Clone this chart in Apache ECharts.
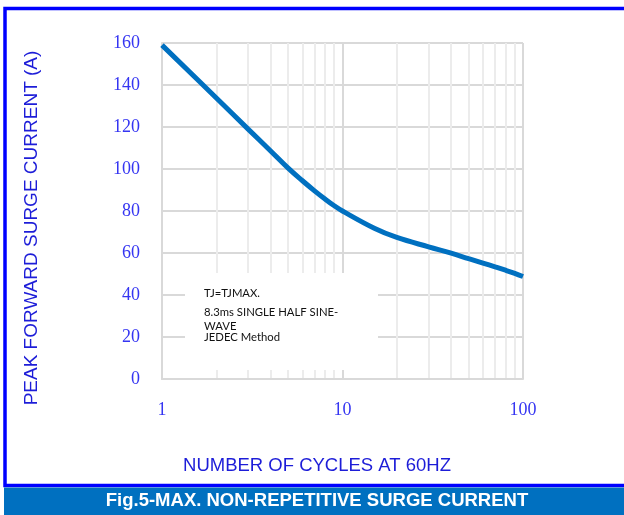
<!DOCTYPE html>
<html>
<head>
<meta charset="utf-8">
<script src="https://cdn.jsdelivr.net/npm/echarts@6/dist/echarts.min.js"></script>
<style>
html,body{margin:0;padding:0;background:#fff;}
#surge{width:624px;height:515px;}
</style>
</head>
<body>
<div id="surge"></div>
<script>
// number of cycles at 60Hz and peak forward surge current (A)
var cycles = [1, 2, 3, 4, 5, 6, 7, 8, 9, 10, 15, 20, 30, 40, 50, 60, 70, 80, 90, 100];
var current = [159, 133.8, 119, 108.6, 100.4, 94.4, 89.6, 85.7, 82.5, 80, 71.8, 67.4, 62.9, 59.9, 57.3, 55.2, 53.4, 51.8, 50.3, 48.8];
// light vertical lines inside each decade
var minorCycles = [2, 3, 4, 5, 6, 7, 8, 9, 20, 30, 40, 50, 60, 70, 80, 90];
var noteLines = ['TJ=TJMAX.', '8.3ms SINGLE HALF SINE-', 'WAVE', 'JEDEC Method'];

function drawSurge(){
	var myChart = echarts.init(document.getElementById("surge"));

	var points = [];
	for(var i=0;i<cycles.length;i++){
		points[i] = [cycles[i], current[i]];
	}
	var minorLines = [];
	for(var i=0;i<minorCycles.length;i++){
		minorLines.push({xAxis: minorCycles[i]});
	}

	var labelBlue = '#3535f2';
	var nameBlue = '#1d1dd8';
	var noteY = [293, 312, 326, 337];
	var graphics = [
		{
			type: 'rect',
			shape: {x: 5, y: 8.5, width: 640, height: 477},
			style: {fill: 'none', stroke: '#0000ff', lineWidth: 3.5},
			z: 10
		},
		{
			type: 'rect',
			shape: {x: 4, y: 487.5, width: 620, height: 28},
			style: {fill: '#0070c0'},
			z: 10
		},
		{
			type: 'text',
			x: 317,
			y: 501,
			style: {
				text: 'Fig.5-MAX. NON-REPETITIVE SURGE CURRENT',
				fill: '#ffffff',
				font: 'bold 18.5px "Liberation Sans"',
				align: 'center',
				verticalAlign: 'middle'
			},
			z: 11
		},
		{
			type: 'text',
			x: 317,
			y: 466,
			style: {
				text: 'NUMBER OF CYCLES AT 60HZ',
				fill: nameBlue,
				font: '18.5px "Liberation Sans"',
				align: 'center',
				verticalAlign: 'middle'
			},
			z: 10
		},
		{
			type: 'text',
			x: 32,
			y: 228,
			rotation: Math.PI / 2,
			style: {
				text: 'PEAK FORWARD SURGE CURRENT (A)',
				fill: nameBlue,
				font: '19px "Liberation Sans"',
				align: 'center',
				verticalAlign: 'middle'
			},
			z: 10
		},
		{
			// white note box over the grid
			type: 'rect',
			shape: {x: 185, y: 273, width: 193, height: 97},
			style: {fill: '#ffffff'},
			z: 3
		}
	];
	for(var i=0;i<noteLines.length;i++){
		graphics.push({
			type: 'text',
			x: 204,
			y: noteY[i],
			style: {text: noteLines[i], fill: '#111', font: '11.3px Lato', verticalAlign: 'middle'},
			z: 4
		});
	}

	var option = {
		animation: false,
		grid: {
			left: 162,
			top: 43,
			right: 101,
			bottom: 136,
			containLabel: false,
			outerBoundsMode: 'none'
		},
		xAxis: {
			type: 'log',
			logBase: 10,
			min: 1,
			max: 100,
			axisLine: {show: true, lineStyle: {color: '#d9d9d9', width: 2}},
			axisTick: {show: false},
			axisLabel: {
				color: labelBlue,
				fontFamily: 'Liberation Serif',
				fontSize: 18,
				margin: 22
			},
			splitLine: {show: true, lineStyle: {color: '#d9d9d9', width: 2}}
		},
		yAxis: {
			type: 'value',
			min: 0,
			max: 160,
			interval: 20,
			axisLine: {show: true, lineStyle: {color: '#d9d9d9', width: 2}},
			axisTick: {show: false},
			axisLabel: {
				color: labelBlue,
				fontFamily: 'Liberation Serif',
				fontSize: 18,
				margin: 22
			},
			splitLine: {show: true, lineStyle: {color: '#d9d9d9', width: 2}}
		},
		graphic: graphics,
		series: [
			{
				name: 'minor',
				type: 'line',
				data: [],
				z: 0,
				silent: true,
				markLine: {
					silent: true,
					z: 0,
					symbol: 'none',
					label: {show: false},
					lineStyle: {color: '#ececec', width: 2, type: 'solid'},
					data: minorLines
				}
			},
			{
				name: 'IFSM',
				type: 'line',
				smooth: 0.4,
				symbol: 'none',
				z: 6,
				lineStyle: {color: '#0070c0', width: 5},
				data: points
			}
		]
	};

	myChart.setOption(option);
}

drawSurge();
</script>
</body>
</html>
